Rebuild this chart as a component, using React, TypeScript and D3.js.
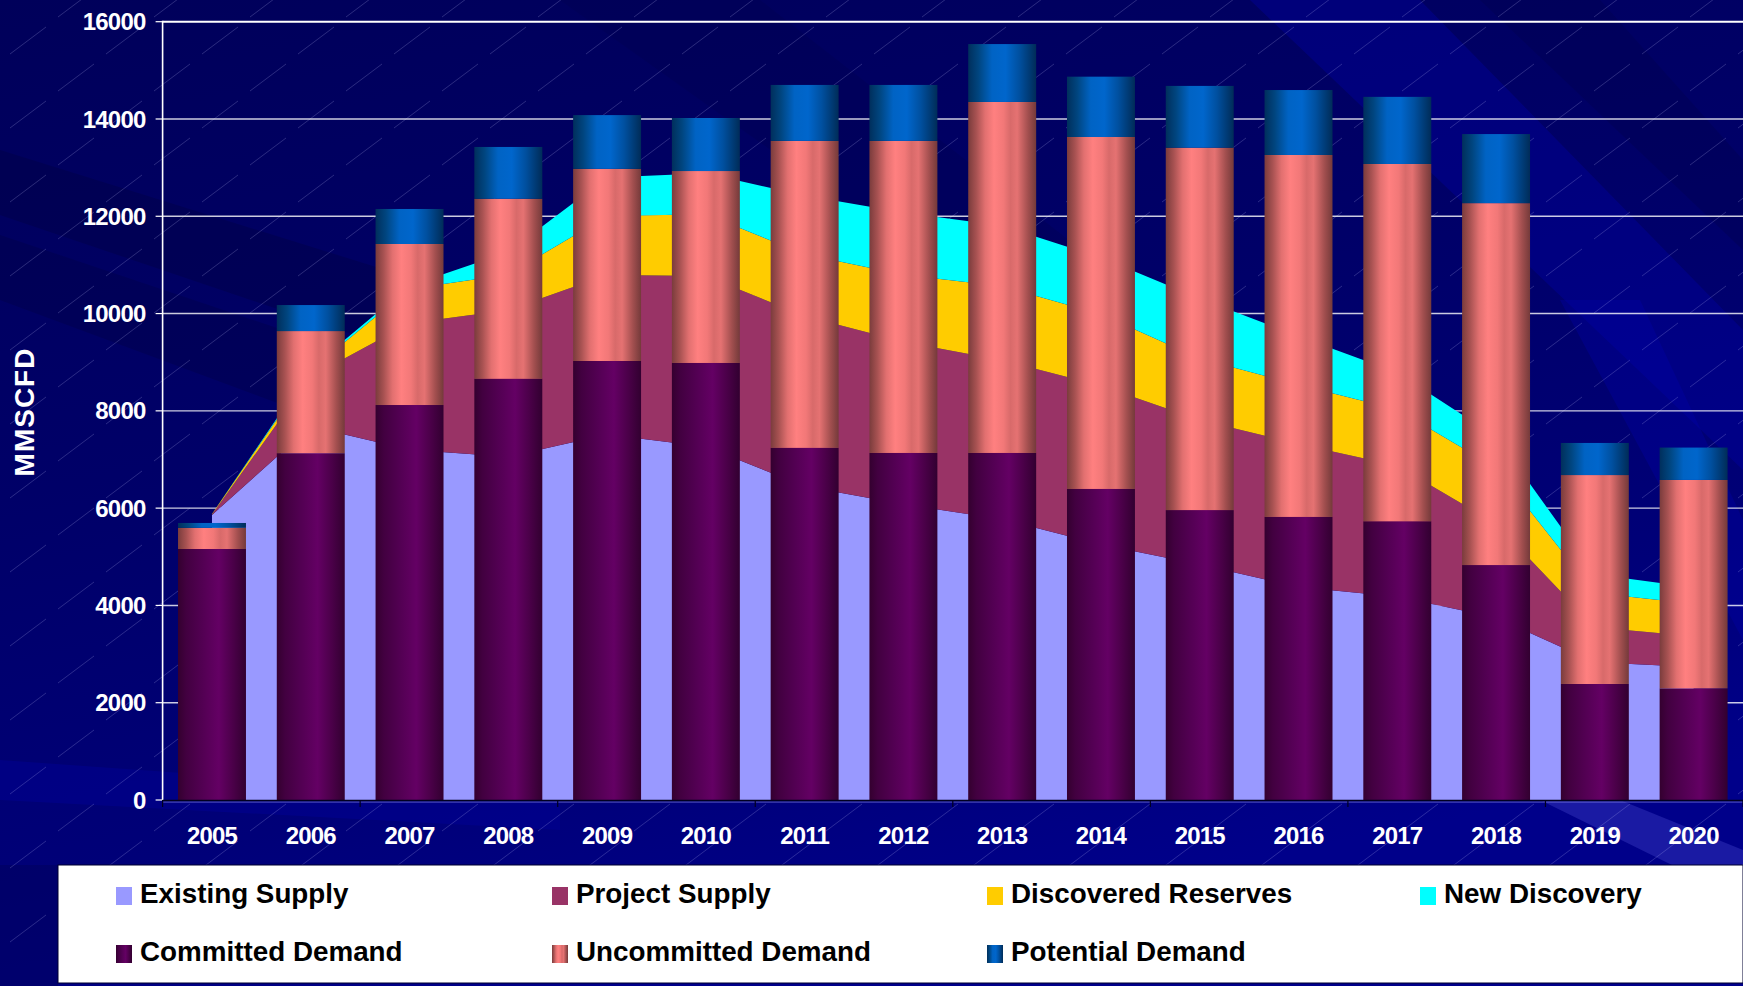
import React from 'react';
import * as d3 from 'd3';

// ---------- data ----------
const YEARS = ['2005', '2006', '2007', '2008', '2009', '2010', '2011', '2012', '2013', '2014', '2015', '2016', '2017', '2018', '2019', '2020'];

// supply (stacked areas)
const EXISTING_SUPPLY = [5860, 7680, 7200, 7055, 7515, 7260, 6450, 6080, 5770, 5255, 4840, 4380, 4180, 3750, 2830, 2735];
const PROJECT_SUPPLY = [10, 1020, 2600, 3020, 3280, 3510, 3500, 3340, 3270, 3260, 2970, 2940, 2690, 1930, 720, 630];
const DISCOVERED_RESERVES = [10, 140, 705, 730, 1210, 1270, 1270, 1380, 1520, 1470, 1265, 1215, 1160, 1150, 705, 670];
const NEW_DISCOVERY = [0, 35, 65, 460, 790, 845, 1205, 1280, 1245, 1165, 1235, 1000, 760, 640, 385, 335];

// demand (stacked bars)
const COMMITTED_DEMAND = [5160, 7130, 8120, 8660, 9025, 8985, 7240, 7135, 7135, 6395, 5960, 5820, 5730, 4830, 2385, 2295];
const UNCOMMITTED_DEMAND = [435, 2510, 3310, 3700, 3950, 3945, 6310, 6415, 7215, 7235, 7450, 7440, 7345, 7440, 4295, 4285];
const POTENTIAL_DEMAND = [100, 535, 720, 1065, 1105, 1090, 1150, 1150, 1190, 1240, 1270, 1335, 1380, 1420, 660, 665];

const Y_TICKS = [0, 2000, 4000, 6000, 8000, 10000, 12000, 14000, 16000];
const Y_TITLE = 'MMSCFD';

const SUPPLY_KEYS = ['existing', 'project', 'discovered', 'newDisc'];
const SUPPLY_LABELS = ['Existing Supply', 'Project Supply', 'Discovered Reserves', 'New Discovery'];
const SUPPLY_COLORS = ['#9999ff', '#993366', '#ffcc00', '#00ffff'];

const DEMAND_KEYS = ['committed', 'uncommitted', 'potential'];
const DEMAND_LABELS = ['Committed Demand', 'Uncommitted Demand', 'Potential Demand'];
const DEMAND_FILLS = ['url(#gCommitted)', 'url(#gUncommitted)', 'url(#gPotential)'];

// ---------- layout ----------
const W = 1743;
const H = 986;
const PLOT_L = 162.6;
const PLOT_R = 1743;
const PLOT_B = 800;
const PLOT_T = 21.7;
const FONT = '"Liberation Sans", Arial, Helvetica, sans-serif';

export default function App() {
  const x = d3.scaleBand<string>().domain(YEARS).range([PLOT_L, PLOT_R]).paddingInner(0.312).paddingOuter(0.156);
  const y = d3.scaleLinear().domain([0, 16000]).range([PLOT_B, PLOT_T]);
  const cx = (yr: string) => (x(yr) as number) + x.bandwidth() / 2;

  const rows = YEARS.map((yr, i) => ({
    year: yr,
    existing: EXISTING_SUPPLY[i],
    project: PROJECT_SUPPLY[i],
    discovered: DISCOVERED_RESERVES[i],
    newDisc: NEW_DISCOVERY[i],
    committed: COMMITTED_DEMAND[i],
    uncommitted: UNCOMMITTED_DEMAND[i],
    potential: POTENTIAL_DEMAND[i],
  }));

  const supplyStack = d3.stack<any>().keys(SUPPLY_KEYS)(rows);
  const demandStack = d3.stack<any>().keys(DEMAND_KEYS)(rows);

  const area = d3
    .area<any>()
    .x((d) => cx(d.data.year))
    .y0((d) => y(d[0]))
    .y1((d) => y(d[1]));

  const step = x.step();
  const tickBoundaries = d3.range(0, YEARS.length + 1, 2).map((k) => PLOT_L + k * step);

  const legendCols = [116, 552, 987, 1420];
  const legendRows = [887, 945];

  return (
    <svg
      width={W}
      height={H}
      viewBox={`0 0 ${W} ${H}`}
      style={{ position: 'absolute', left: 0, top: 0, display: 'block' }}
    >
      <defs>
        <linearGradient id="bg" x1="0" y1="0" x2="0.35" y2="1">
          <stop offset="0" stopColor="#00005a" />
          <stop offset="0.45" stopColor="#000068" />
          <stop offset="0.8" stopColor="#000078" />
          <stop offset="1" stopColor="#00008a" />
        </linearGradient>
        <linearGradient id="gCommitted" x1="0" y1="0" x2="1" y2="0">
          <stop offset="0" stopColor="#34002f" />
          <stop offset="0.12" stopColor="#420040" />
          <stop offset="0.35" stopColor="#520052" />
          <stop offset="0.6" stopColor="#640064" />
          <stop offset="0.8" stopColor="#4c004a" />
          <stop offset="1" stopColor="#320030" />
        </linearGradient>
        <linearGradient id="gUncommitted" x1="0" y1="0" x2="1" y2="0">
          <stop offset="0" stopColor="#7a3c3c" />
          <stop offset="0.12" stopColor="#a85252" />
          <stop offset="0.25" stopColor="#e27070" />
          <stop offset="0.38" stopColor="#ff8080" />
          <stop offset="0.52" stopColor="#f27878" />
          <stop offset="0.62" stopColor="#d86a6a" />
          <stop offset="0.72" stopColor="#e57272" />
          <stop offset="0.88" stopColor="#a24f4f" />
          <stop offset="1" stopColor="#743a3a" />
        </linearGradient>
        <linearGradient id="gPotential" x1="0" y1="0" x2="1" y2="0">
          <stop offset="0" stopColor="#002f5c" />
          <stop offset="0.15" stopColor="#00457f" />
          <stop offset="0.35" stopColor="#0063c4" />
          <stop offset="0.55" stopColor="#0066cc" />
          <stop offset="0.75" stopColor="#0050a0" />
          <stop offset="1" stopColor="#002c58" />
        </linearGradient>
        <pattern id="hair" patternUnits="userSpaceOnUse" width="96" height="74">
          <line x1="10" y1="54" x2="46" y2="27" stroke="#c8c8ff" strokeOpacity="0.3" strokeWidth="0.7" />
          <line x1="58" y1="91" x2="94" y2="64" stroke="#c8c8ff" strokeOpacity="0.3" strokeWidth="0.7" />
          <line x1="58" y1="17" x2="94" y2="-10" stroke="#c8c8ff" strokeOpacity="0.3" strokeWidth="0.7" />
        </pattern>
      </defs>

      {/* background */}
      <rect x={0} y={0} width={W} height={H} fill="url(#bg)" />
      {/* diagonal swoosh bands */}
      <polygon points="0,150 0,215 900,520 900,430" fill="#000040" opacity={0.35} />
      <polygon points="0,235 0,300 700,560 700,470" fill="#000040" opacity={0.3} />
      <polygon points="0,760 0,800 560,830 560,800" fill="#0000a0" opacity={0.35} />
      <polygon points="560,0 760,0 1300,420 1150,420" fill="#000050" opacity={0.35} />
      <polygon points="1250,0 1420,0 1743,330 1743,470" fill="#0000a8" opacity={0.35} />
      <polygon points="1480,0 1600,0 1743,160 1743,250" fill="#000050" opacity={0.4} />
      <polygon points="1560,300 1640,300 1743,520 1743,640" fill="#0000b0" opacity={0.3} />
      <polygon points="1540,800 1620,800 1743,850 1743,900" fill="#3a3ac0" opacity={0.45} />
      <polygon points="0,865 58,865 58,986 0,986" fill="#000060" opacity={0.6} />
      <rect x={0} y={0} width={W} height={H} fill="url(#hair)" />

      {/* gridlines */}
      {Y_TICKS.filter((t) => t > 0).map((t) => (
        <line
          key={`g${t}`}
          x1={PLOT_L}
          x2={PLOT_R}
          y1={y(t)}
          y2={y(t)}
          stroke="#ffffff"
          strokeOpacity={t === 16000 ? 1 : 0.8}
          strokeWidth={t === 16000 ? 2 : 1.4}
        />
      ))}

      {/* supply areas */}
      {supplyStack.map((s, i) => (
        <path key={s.key} d={area(s) as string} fill={SUPPLY_COLORS[i]} />
      ))}

      {/* demand bars */}
      {demandStack.map((s, i) => (
        <g key={s.key}>
          {s.map((d: any) => (
            <rect
              key={d.data.year}
              x={x(d.data.year)}
              y={y(d[1])}
              width={x.bandwidth()}
              height={Math.max(0, y(d[0]) - y(d[1]))}
              fill={DEMAND_FILLS[i]}
            />
          ))}
        </g>
      ))}

      {/* axes */}
      <line x1={PLOT_L} x2={PLOT_L} y1={PLOT_T - 1} y2={PLOT_B} stroke="#ffffff" strokeWidth={1.6} />
      {Y_TICKS.map((t) => (
        <line key={`t${t}`} x1={PLOT_L - 7} x2={PLOT_L} y1={y(t)} y2={y(t)} stroke="#ffffff" strokeWidth={1.2} />
      ))}
      <line x1={PLOT_L} x2={PLOT_R} y1={PLOT_B + 2} y2={PLOT_B + 2} stroke="#8c8cf0" strokeOpacity={0.7} strokeWidth={1} />
      <line x1={PLOT_L} x2={PLOT_R} y1={PLOT_B + 0.5} y2={PLOT_B + 0.5} stroke="#000020" strokeWidth={1.4} />
      {tickBoundaries.map((bx, i) => (
        <line key={`xt${i}`} x1={bx} x2={bx} y1={PLOT_B} y2={PLOT_B + 7} stroke="#000020" strokeWidth={1.2} />
      ))}

      {/* y tick labels */}
      {Y_TICKS.map((t) => (
        <text
          key={`yl${t}`}
          x={145.5}
          y={y(t)}
          dy="0.36em"
          textAnchor="end"
          fill="#ffffff"
          fontFamily={FONT}
          fontWeight="bold"
          fontSize={24}
          letterSpacing={-0.8}
        >
          {t}
        </text>
      ))}

      {/* x tick labels */}
      {YEARS.map((yr) => (
        <text
          key={`xl${yr}`}
          x={cx(yr)}
          y={843.5}
          textAnchor="middle"
          fill="#ffffff"
          fontFamily={FONT}
          fontWeight="bold"
          fontSize={24}
          letterSpacing={-0.8}
        >
          {yr}
        </text>
      ))}

      {/* y axis title */}
      <text
        transform="translate(24.5,412) rotate(-90)"
        textAnchor="middle"
        dominantBaseline="central"
        fill="#ffffff"
        fontFamily={FONT}
        fontWeight="bold"
        fontSize={28}
        letterSpacing={1}
      >
        {Y_TITLE}
      </text>

      {/* legend */}
      <rect x={58} y={865} width={W - 58} height={118} fill="#ffffff" stroke="#000030" strokeWidth={1} />
      {SUPPLY_LABELS.map((lab, i) => (
        <g key={lab}>
          <rect x={legendCols[i]} y={legendRows[0]} width={16} height={18} fill={SUPPLY_COLORS[i]} />
          <text
            x={legendCols[i] + 24}
            y={legendRows[0] + 16}
            fill="#000000"
            fontFamily={FONT}
            fontWeight="bold"
            fontSize={27.8}
          >
            {lab}
          </text>
        </g>
      ))}
      {DEMAND_LABELS.map((lab, i) => (
        <g key={lab}>
          <rect x={legendCols[i]} y={legendRows[1]} width={16} height={18} fill={DEMAND_FILLS[i]} />
          <text
            x={legendCols[i] + 24}
            y={legendRows[1] + 16}
            fill="#000000"
            fontFamily={FONT}
            fontWeight="bold"
            fontSize={27.8}
          >
            {lab}
          </text>
        </g>
      ))}
    </svg>
  );
}
